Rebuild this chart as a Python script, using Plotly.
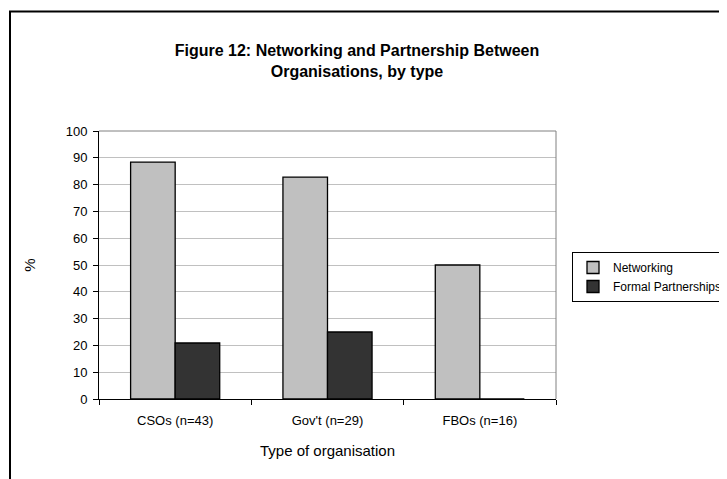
import plotly.graph_objects as go

# data
categories = ["CSOs (n=43)", "Gov't (n=29)", "FBOs (n=16)"]
networking = [88.4, 82.8, 50.0]
formal_partnerships = [20.9, 25.0, 0.0]

W, H = 727, 479
OFF = 8  # page body margin offsets everything by 8px
# plot area in pixels (as seen in the screenshot)
L, R, T, B = 99, 556, 131, 399

fig = go.Figure()
fig.add_trace(go.Bar(x=categories, y=networking, name="Networking",
                     marker=dict(color="#C0C0C0", line=dict(color="#000000", width=1.3))))
fig.add_trace(go.Bar(x=categories, y=formal_partnerships, name="Formal Partnerships",
                     marker=dict(color="#333333", line=dict(color="#000000", width=1.3))))

pw = R - L
ph = B - T

def px_x(x):
    return (x - L) / pw

def px_y(y):
    return (B - y) / ph

fig.update_layout(
    width=W, height=H,
    margin=dict(l=L - OFF, r=W - R + OFF, t=T - OFF, b=H - B + OFF, autoexpand=False),
    paper_bgcolor="white", plot_bgcolor="white",
    font=dict(family="Liberation Sans, Arial, sans-serif", color="#000000", size=12),
    barmode="group", bargap=0.415, bargroupgap=0,
    title=dict(text="<b>Figure 12: Networking and Partnership Between<br>Organisations, by type</b>",
               x=(357 - OFF) / W, xanchor="center", y=1 - 48 / H, yanchor="top",
               font=dict(size=16)),
    legend=dict(x=px_x(572), xanchor="left", y=px_y(252), yanchor="top",
                bordercolor="#000000", borderwidth=1, bgcolor="white",
                font=dict(size=12), tracegroupgap=0, itemwidth=30),
    showlegend=True,
)

fig.update_yaxes(range=[0, 100], dtick=10, showgrid=True, gridcolor="#C0C0C0", gridwidth=1,
                 showline=True, linecolor="#000000", linewidth=1,
                 ticks="outside", ticklen=5, tickcolor="#000000",
                 tickfont=dict(size=13), zeroline=False, ticklabelstandoff=3,
                 title=dict(text="%", font=dict(size=15), standoff=26))
fig.update_xaxes(showline=True, linecolor="#000000", linewidth=1,
                 ticks="outside", tickson="boundaries", ticklen=5, tickcolor="#000000",
                 tickfont=dict(size=13), ticklabelstandoff=9,
                 title=dict(text="Type of organisation", font=dict(size=15), standoff=18))

# gray top and right border of plot area
fig.add_shape(type="line", xref="paper", yref="paper", x0=0, x1=1, y0=1, y1=1,
              line=dict(color="#808080", width=1))
fig.add_shape(type="line", xref="paper", yref="paper", x0=1, x1=1, y0=0, y1=1,
              line=dict(color="#808080", width=1))

# outer chart frame (runs past the right and bottom edges)
fig.add_shape(type="rect", xref="paper", yref="paper",
              x0=px_x(10), x1=px_x(W + 20), y0=px_y(H + 20), y1=px_y(11.5),
              line=dict(color="#000000", width=2), layer="below")

fig.write_html("out.html")
